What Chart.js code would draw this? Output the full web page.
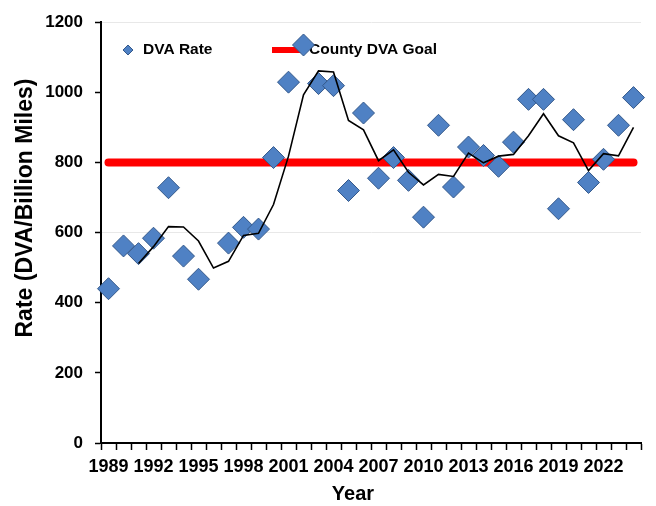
<!DOCTYPE html>
<html>
<head>
<meta charset="utf-8">
<script src="https://cdn.jsdelivr.net/npm/chart.js@4.4.1/dist/chart.umd.min.js"></script>
<style>
    html, body { margin: 0; padding: 0; background: #ffffff; }
    #wrap { width: 656px; height: 506px; }
</style>
</head>
<body>
<div id="wrap"><canvas id="dvaChart" width="656" height="506"></canvas></div>
<script>
const years = [
    "1989", "1990", "1991", "1992", "1993", "1994", "1995", "1996", "1997",
    "1998", "1999", "2000", "2001", "2002", "2003", "2004", "2005", "2006",
    "2007", "2008", "2009", "2010", "2011", "2012", "2013", "2014", "2015",
    "2016", "2017", "2018", "2019", "2020", "2021", "2022", "2023", "2024"
];

// DVA rate per year (no point shown for 1996)
const dvaRate = [
    440, 562, 540, 584, 728, 533, 467, null, 570,
    615, 610, 814, 1029, 1135, 1025, 1019, 720, 941,
    755, 814, 749, 644, 906, 730, 844, 820, 789,
    858, 980, 980, 668, 922, 743, 809, 906, 985
];

// black trend line (starts in 1991)
const trendRate = [
    null, null, 512, 560, 617, 616, 576, 499, 518,
    592, 598, 680, 818, 993, 1061, 1058, 920, 893,
    805, 836, 772, 736, 766, 760, 827, 799, 818,
    823, 876, 939, 876, 856, 777, 825, 819, 900
];

const goalYears = ["1989", "2024"];
const goalRate = [800, 800];

const xTickLabels = ["1989", "1992", "1995", "1998", "2001", "2004",
    "2007", "2010", "2013", "2016", "2019", "2022"];

const BLUE = "#4f81c4";
const BLUE_EDGE = "#34588a";
const RED = "#ff0000";
const FONT = "'Liberation Sans', Arial, sans-serif";

document.addEventListener("DOMContentLoaded", () => {
    const ctx = document.getElementById("dvaChart").getContext("2d");

    // legend inside the plot and the two axis titles
    const overlay = {
        id: "overlay",
        beforeDatasetsDraw(chart) {
            const c = chart.ctx;
            c.save();
            c.fillStyle = BLUE;
            c.strokeStyle = BLUE_EDGE;
            c.lineWidth = 1;
            Chart.helpers.drawPoint(c, { pointStyle: "rectRot", radius: 5, rotation: 0, borderWidth: 1 }, 128, 50);
            c.fillStyle = "#000";
            c.font = "bold 15.5px " + FONT;
            c.textBaseline = "middle";
            c.textAlign = "left";
            c.fillText("DVA Rate", 143, 50);
            c.strokeStyle = RED;
            c.lineWidth = 6;
            c.beginPath();
            c.moveTo(272, 50);
            c.lineTo(304, 50);
            c.stroke();
            c.fillText("County DVA Goal", 309, 50);
            c.restore();
        },
        afterDraw(chart) {
            const c = chart.ctx;
            c.save();
            c.fillStyle = "#000";
            c.textAlign = "center";
            c.textBaseline = "middle";
            c.font = "bold 20px " + FONT;
            c.fillText("Year", 353, 494);
            c.translate(26, 208);
            c.rotate(-Math.PI / 2);
            c.font = "bold 23px " + FONT;
            c.fillText("Rate (DVA/Billion Miles)", 0, 0);
            c.restore();
        }
    };

    new Chart(ctx, {
        type: "line",
        data: {
            labels: years,
            datasets: [
                {
                    label: "Trend",
                    data: trendRate,
                    borderColor: "#000000",
                    borderWidth: 1.6,
                    pointRadius: 0,
                    tension: 0,
                    fill: false
                },
                {
                    label: "DVA Rate",
                    data: dvaRate,
                    showLine: false,
                    pointStyle: "rectRot",
                    pointRadius: 11,
                    pointBackgroundColor: BLUE,
                    pointBorderColor: BLUE_EDGE,
                    pointBorderWidth: 1
                },
                {
                    label: "County DVA Goal",
                    data: goalYears.map((y, i) => ({ x: y, y: goalRate[i] })),
                    borderColor: RED,
                    borderWidth: 8,
                    borderCapStyle: "round",
                    pointRadius: 0,
                    fill: false
                }
            ]
        },
        options: {
            responsive: false,
            animation: false,
            devicePixelRatio: 1,
            layout: {
                padding: { top: 19, right: 15, bottom: 0, left: 0 }
            },
            plugins: {
                legend: { display: false },
                tooltip: { enabled: false }
            },
            scales: {
                x: {
                    type: "category",
                    offset: true,
                    afterFit: (s) => { s.height = 63; },
                    border: { color: "#000", width: 2 },
                    grid: {
                        offset: true,
                        drawOnChartArea: false,
                        tickLength: 7,
                        tickColor: "#000",
                        tickWidth: 1.5
                    },
                    ticks: {
                        autoSkip: false,
                        maxRotation: 0,
                        padding: 6,
                        color: "#000",
                        font: { family: FONT, size: 18, weight: "bold" },
                        callback(value) {
                            const lab = this.getLabelForValue(value);
                            return xTickLabels.includes(lab) ? lab : "";
                        }
                    }
                },
                y: {
                    min: 0,
                    max: 1200,
                    afterFit: (s) => { s.width = 101; },
                    border: { color: "#000", width: 2 },
                    grid: {
                        color: (c) => (c.tick && (c.tick.value === 600 || c.tick.value === 1200)) ? "#e8e8e8" : "rgba(0,0,0,0)",
                        tickLength: 6,
                        tickColor: "#000",
                        tickWidth: 1.5
                    },
                    ticks: {
                        stepSize: 200,
                        padding: 12,
                        color: "#000",
                        font: { family: FONT, size: 17, weight: "bold" },
                        callback: (v) => String(v)
                    }
                }
            }
        },
        plugins: [overlay]
    });
});
</script>
</body>
</html>
